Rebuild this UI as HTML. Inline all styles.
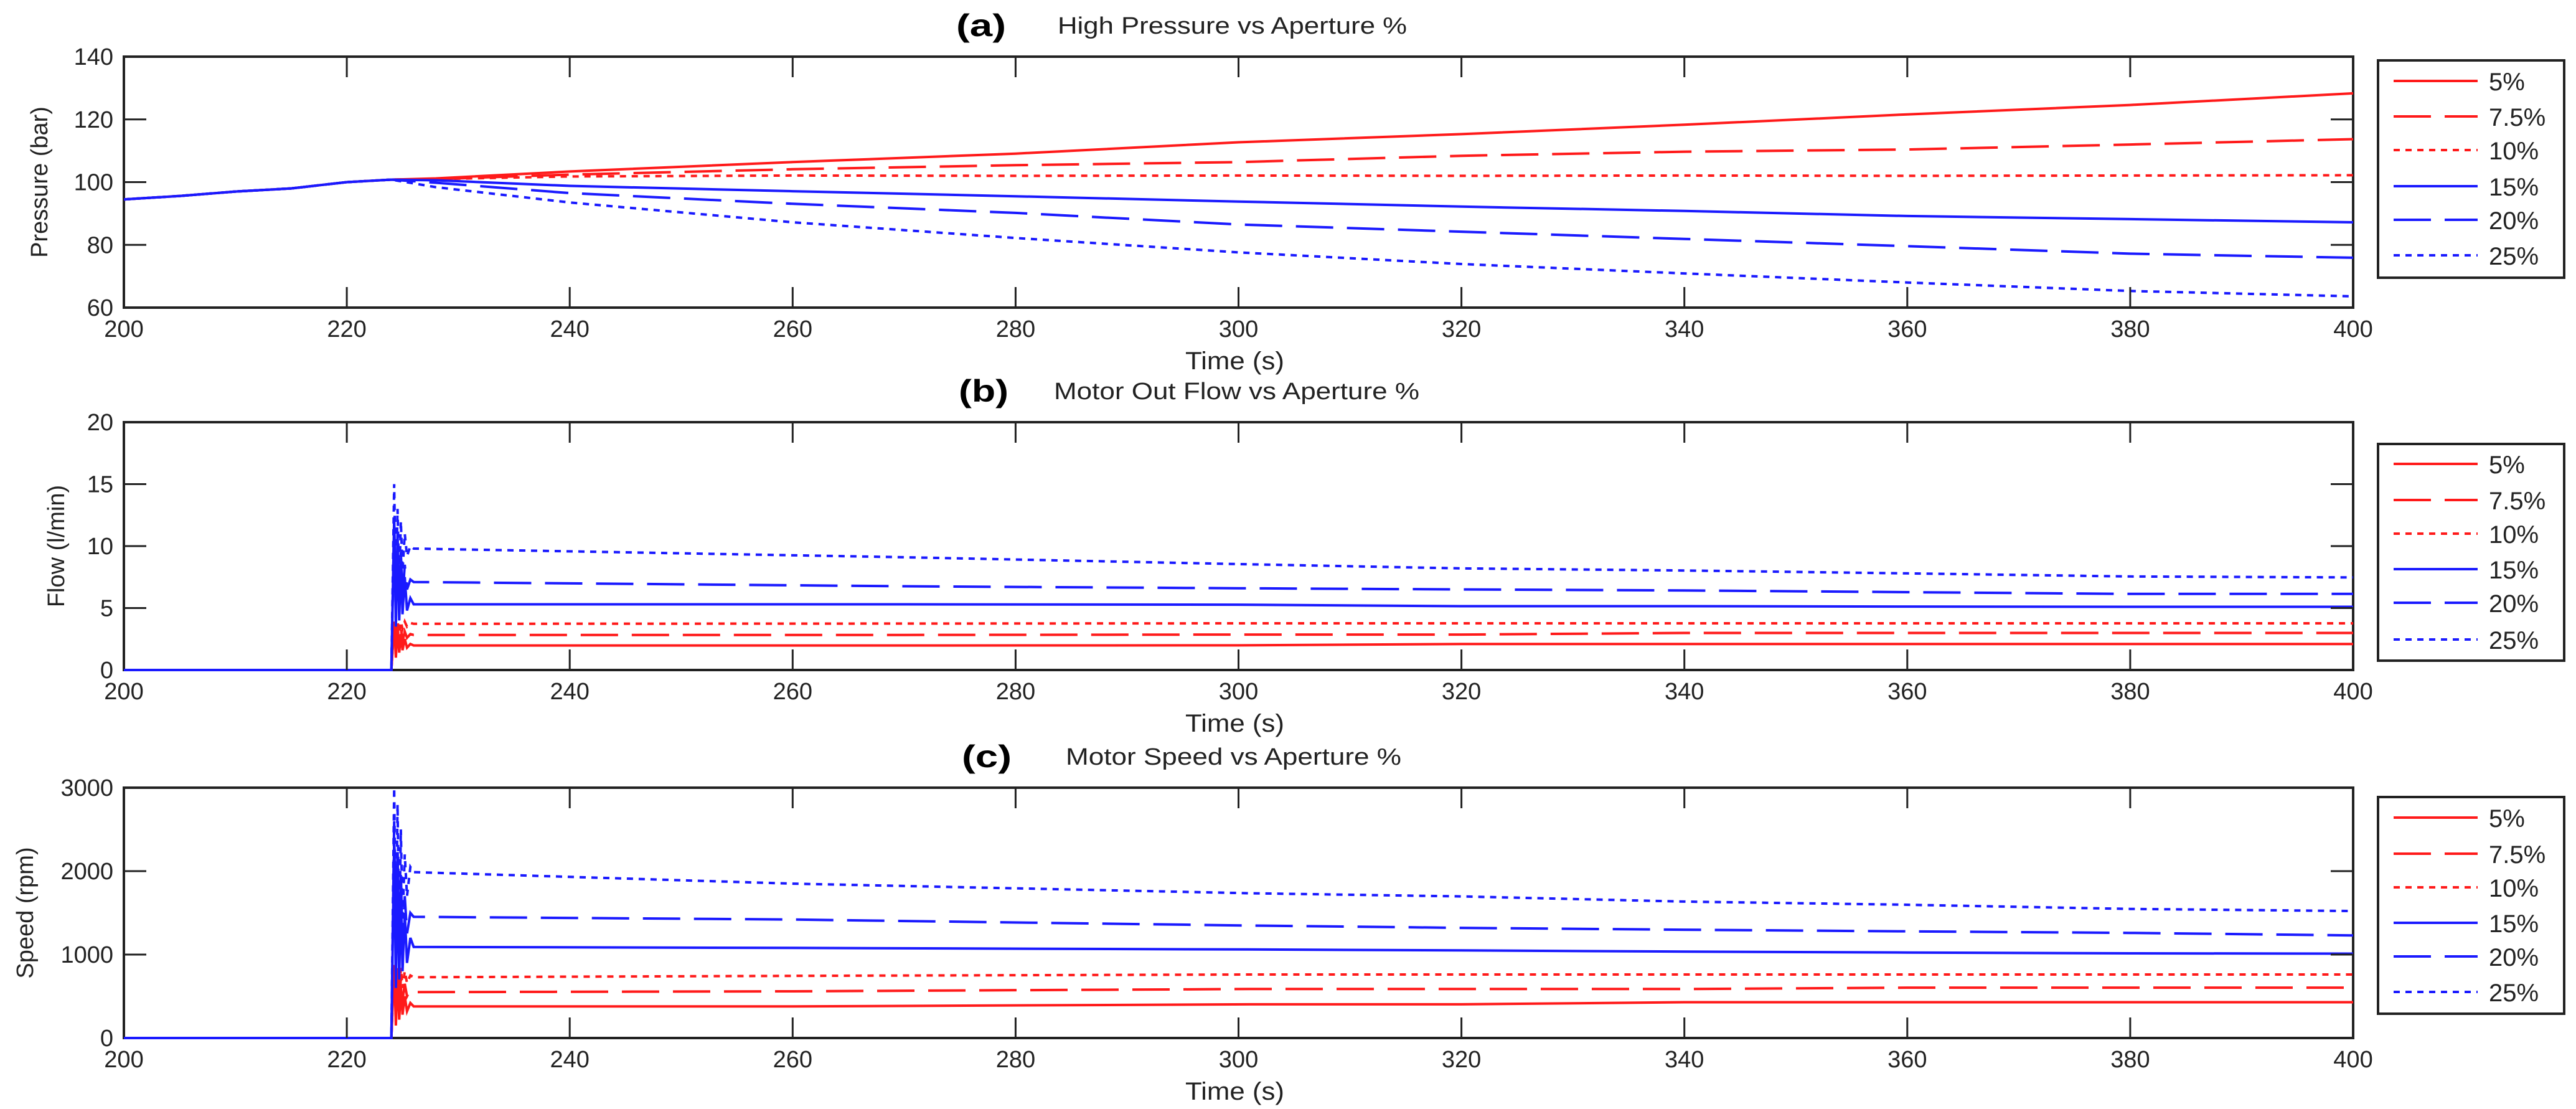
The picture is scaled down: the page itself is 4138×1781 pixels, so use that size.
<!DOCTYPE html>
<html><head><meta charset="utf-8"><style>
html,body{margin:0;padding:0;background:#fff;}
svg{display:block;font-family:"Liberation Sans",Arial,sans-serif;}
</style></head><body>
<svg id="fig" width="4138" height="1781" viewBox="0 0 4138 1781" xmlns="http://www.w3.org/2000/svg"></svg>
<script>
// ---------- shared data ----------
const seriesLabels = ["5%", "7.5%", "10%", "15%", "20%", "25%"];
const xTicks = [200, 220, 240, 260, 280, 300, 320, 340, 360, 380, 400];

// ---------- panel (a) pressure ----------
const pTicks = [60, 80, 100, 120, 140];
const pPreT = [200, 205, 210, 215, 220, 224];
const pPreV = [94.5, 95.6, 97.0, 98.0, 100.0, 100.8];
const pT = [228, 240, 260, 280, 300, 320, 340, 360, 380, 400];
const p5 = [101.2, 103.4, 106.4, 109.1, 112.7, 115.3, 118.3, 121.6, 124.6, 128.3];
const p75 = [101.0, 102.4, 104.1, 105.4, 106.4, 108.4, 109.7, 110.4, 112.0, 113.7];
const p10 = [101.0, 101.8, 102.1, 102.0, 102.1, 102.0, 102.1, 102.0, 102.1, 102.2];
const p15 = [100.6, 98.8, 97.1, 95.5, 93.8, 92.2, 90.8, 89.2, 88.2, 87.2];
const p20 = [99.8, 96.5, 93.1, 90.2, 86.5, 84.2, 81.9, 79.6, 77.2, 75.9];
const p25 = [98.4, 93.5, 87.2, 82.2, 77.6, 73.9, 70.9, 68.0, 65.3, 63.6];

// ---------- panel (b) flow ----------
const fTicks = [0, 5, 10, 15, 20];
const fT = [200, 224, 224.25, 224.4, 224.55, 224.7, 224.85, 225.0, 225.2, 225.4, 225.7, 226, 270, 300, 320, 340, 360, 380, 400];
const f5  = [0, 0, 3.9, 1.0, 3.4, 1.4, 2.9, 1.6, 2.5, 1.8, 2.1, 1.98, 1.98, 1.99, 2.1, 2.1, 2.1, 2.1, 2.1];
const f75 = [0, 0, 3.9, 1.6, 3.6, 2.0, 3.4, 2.3, 3.1, 2.6, 2.9, 2.83, 2.83, 2.86, 2.86, 2.99, 2.99, 2.99, 2.99];
const f10 = [0, 0, 3.9, 2.4, 3.9, 3.0, 3.9, 3.3, 3.9, 3.5, 3.8, 3.73, 3.75, 3.77, 3.77, 3.77, 3.77, 3.77, 3.77];
const f15 = [0, 0, 12.3, 3.5, 11.0, 4.0, 9.0, 4.5, 7.5, 4.8, 5.8, 5.3, 5.3, 5.27, 5.15, 5.15, 5.12, 5.1, 5.1];
const f20 = [0, 0, 12.0, 4.0, 10.5, 5.0, 9.5, 5.8, 8.5, 6.5, 7.3, 7.1, 6.76, 6.6, 6.5, 6.42, 6.28, 6.14, 6.14];
const f25 = [0, 0, 15.0, 6.0, 13.0, 7.0, 12.0, 8.0, 11.0, 9.2, 10.0, 9.8, 9.1, 8.55, 8.2, 8.03, 7.8, 7.55, 7.47];

// ---------- panel (c) speed ----------
const sTicks = [0, 1000, 2000, 3000];
const sT = [200, 224, 224.25, 224.4, 224.55, 224.7, 224.85, 225.0, 225.2, 225.4, 225.7, 226, 260, 301, 320, 340, 360, 380, 400];
const s5  = [0, 0, 875, 150, 750, 220, 620, 280, 500, 320, 420, 378, 378, 404, 404, 429, 429, 429, 429];
const s75 = [0, 0, 875, 300, 800, 380, 720, 450, 650, 500, 580, 550, 560, 587, 587, 587, 604, 604, 604];
const s10 = [0, 0, 875, 450, 870, 520, 840, 600, 800, 660, 750, 728, 745, 761, 761, 761, 761, 761, 761];
const s15 = [0, 0, 2400, 600, 2100, 700, 1800, 800, 1500, 900, 1200, 1092, 1080, 1061, 1050, 1036, 1025, 1015, 1011];
const s20 = [0, 0, 2600, 800, 2300, 950, 2000, 1100, 1700, 1250, 1500, 1452, 1420, 1348, 1320, 1298, 1278, 1260, 1230];
const s25 = [0, 0, 3000, 1000, 2800, 1200, 2500, 1400, 2200, 1700, 2050, 1988, 1850, 1735, 1697, 1635, 1597, 1547, 1522];

// ---------- layout ----------
const NS = "http://www.w3.org/2000/svg";
const svg = document.getElementById("fig");
const X0 = 199, X1 = 3780;
const COLORS = ["#ff1a1a", "#ff1a1a", "#ff1a1a", "#1a1aff", "#1a1aff", "#1a1aff"];
const DASHES = ["", "60,22", "10,9", "", "60,22", "10,9"];
function xs(t) { return X0 + (t - 200) * (X1 - X0) / 200; }
function mk(tag, attrs, parent) {
  const e = document.createElementNS(NS, tag);
  for (const k in attrs) e.setAttribute(k, attrs[k]);
  (parent || svg).appendChild(e);
  return e;
}

const panels = [
  { key: "pressure", top: 91, bot: 494, yMin: 60, yMax: 140, ticks: pTicks,
    letter: "(a)", letterX: 1536, title: "High Pressure vs Aperture %", titleX: 1699, titleW: 561,
    ylabel: "Pressure (bar)", ylabelX: 63, legTop: 97, legBot: 446,
    legY: [130, 187, 241, 299, 353, 410] },
  { key: "flow", top: 678, bot: 1076, yMin: 0, yMax: 20, ticks: fTicks,
    letter: "(b)", letterX: 1540, title: "Motor Out Flow vs Aperture %", titleX: 1693, titleW: 587,
    ylabel: "Flow (l/min)", ylabelX: 90, legTop: 713, legBot: 1061,
    legY: [745, 803, 857, 914, 968, 1027] },
  { key: "speed", top: 1265, bot: 1667, yMin: 0, yMax: 3000, ticks: sTicks,
    letter: "(c)", letterX: 1545, title: "Motor Speed vs Aperture %", titleX: 1712, titleW: 539,
    ylabel: "Speed (rpm)", ylabelX: 40, legTop: 1280, legBot: 1628,
    legY: [1313, 1371, 1425, 1482, 1536, 1593] }
];

function seriesFor(key) {
  if (key === "pressure") {
    const all = [p5, p75, p10, p15, p20, p25];
    return all.map(v => ({ t: pPreT.concat(pT), v: pPreV.concat(v) }));
  }
  if (key === "flow") return [f5, f75, f10, f15, f20, f25].map(v => ({ t: fT, v: v }));
  return [s5, s75, s10, s15, s20, s25].map(v => ({ t: sT, v: v }));
}

panels.forEach(P => {
  const g = mk("g", {});
  
  
  const ys = v => P.bot - (v - P.yMin) * (P.bot - P.top) / (P.yMax - P.yMin);

  // axes box (drawn first so lines lie on top)
  const box = mk("rect", { x: X0, y: P.top, width: X1 - X0, height: P.bot - P.top, fill: "none", stroke: "#222", "stroke-width": 4 }, g);
  
  

  // series
  const ser = seriesFor(P.key);
  const clipId = "clip-" + P.key;
  const cp = mk("clipPath", { id: clipId }, g);
  mk("rect", { x: X0, y: P.top - 2, width: X1 - X0, height: P.bot - P.top + 4 }, cp);
  const order = [0, 1, 2, 4, 5, 3];
  order.forEach(i => {
    const s = ser[i];
    const pts = s.t.map((t, j) => xs(t).toFixed(1) + "," + ys(s.v[j]).toFixed(1)).join(" ");
    const pl = mk("polyline", { points: pts, fill: "none", stroke: COLORS[i], "stroke-width": 4,
      "stroke-dasharray": DASHES[i] || "none", "clip-path": "url(#" + clipId + ")" }, g);
    
    
  });

  // x ticks
  xTicks.forEach(t => {
    const x = xs(t);
    if (t !== 200 && t !== 400) {
      mk("line", { x1: x, x2: x, y1: P.bot, y2: P.bot - 33, stroke: "#222", "stroke-width": 3 }, g);
      mk("line", { x1: x, x2: x, y1: P.top, y2: P.top + 33, stroke: "#222", "stroke-width": 3 }, g);
    }
    const tx = mk("text", { x: x, y: P.bot + 47, "font-size": 38, "text-anchor": "middle", fill: "#222" }, g);
    tx.textContent = t;
    
    
  });
  // y ticks
  P.ticks.forEach(v => {
    const y = ys(v);
    if (v !== P.yMin && v !== P.yMax) {
      mk("line", { x1: X0, x2: X0 + 36, y1: y, y2: y, stroke: "#222", "stroke-width": 3 }, g);
      mk("line", { x1: X1, x2: X1 - 36, y1: y, y2: y, stroke: "#222", "stroke-width": 3 }, g);
    }
    const ty = mk("text", { x: 182, y: y + 13, "font-size": 38, "text-anchor": "end", fill: "#222" }, g);
    ty.textContent = v;
    
    
  });

  // x axis title
  const xt = mk("text", { x: 1904, y: P.bot + 99, "font-size": 40, textLength: 159, lengthAdjust: "spacingAndGlyphs", fill: "#222" }, g);
  xt.textContent = "Time (s)";
  
  

  // y axis title
  const cy = (P.top + P.bot) / 2;
  const yt = mk("text", { x: P.ylabelX + 13, y: cy, "font-size": 38, "text-anchor": "middle", fill: "#222",
    transform: "rotate(-90 " + (P.ylabelX + 13) + " " + cy + ")" }, g);
  yt.textContent = P.ylabel;
  
  

  // panel title
  const lt = mk("text", { x: P.letterX, y: P.top - 33, "font-size": 50, "font-weight": "bold", fill: "#000",
    textLength: 80, lengthAdjust: "spacingAndGlyphs" }, g);
  lt.textContent = P.letter;
  
  
  const tt = mk("text", { x: P.titleX, y: P.top - 37, "font-size": 38, fill: "#222",
    textLength: P.titleW, lengthAdjust: "spacingAndGlyphs" }, g);
  tt.textContent = P.title;
  
  

  // legend
  const lg = mk("g", {}, g);
  
  
  mk("rect", { x: 3820, y: P.legTop, width: 299, height: P.legBot - P.legTop, fill: "#fff", stroke: "#222", "stroke-width": 4 }, lg);
  seriesLabels.forEach((lab, i) => {
    const ey = P.legY[i];
    const ent = mk("g", {}, lg);
    
    
    mk("line", { x1: 3845, x2: 3980, y1: ey, y2: ey, stroke: COLORS[i], "stroke-width": 4,
      "stroke-dasharray": DASHES[i] || "none" }, ent);
    const et = mk("text", { x: 3998, y: ey + 15, "font-size": 40, fill: "#222" }, ent);
    et.textContent = lab;
  });
});
</script>
</body></html>
